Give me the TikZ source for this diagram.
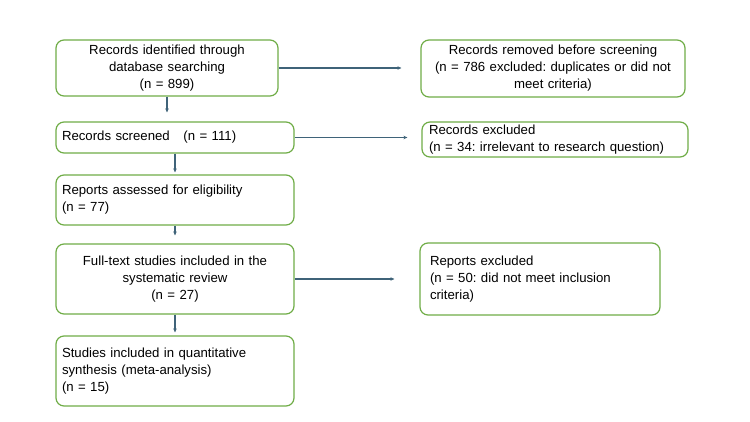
\documentclass[tikz,border=0pt]{standalone}
\usepackage{fontspec}
\setmainfont{Liberation Sans}
\usetikzlibrary{arrows.meta}
\definecolor{boxgreen}{HTML}{70AD47}
\definecolor{flowblue}{HTML}{3F6379}
\frenchspacing
\begin{document}
\begin{tikzpicture}[x=1pt,y=-1pt,
  flowbox/.style={draw=boxgreen, line width=1.2pt, rounded corners=8pt,
    font=\fontsize{13.2}{17}\selectfont, inner sep=0pt, anchor=center},
  flowarrow/.style={draw=flowblue, line width=1.2pt, -{Stealth[length=4pt,width=3.5pt]}}]
\useasboundingbox[fill=white] (0,0) rectangle (750,422);

% main column
\node[flowbox, minimum width=222pt, minimum height=56pt, text width=210pt, align=center]
  (ident) at (167,68) {Records identified through\\database searching\\(n = 899)};
\node[flowbox, minimum width=238pt, minimum height=31pt, text width=226pt, align=left]
  (screen) at (175,137.5) {Records screened\hspace{0.7em} (n = 111)};
\node[flowbox, minimum width=238pt, minimum height=50pt, text width=226pt, align=left]
  (assess) at (175,200) {Reports assessed for eligibility\\(n = 77)};
\node[flowbox, minimum width=238pt, minimum height=70pt, text width=226pt, align=center]
  (full) at (175,279) {Full-text studies included in the\\systematic review\\(n = 27)};
\node[flowbox, minimum width=238pt, minimum height=70pt, text width=226pt, align=left]
  (quant) at (175,371) {Studies included in quantitative\\synthesis (meta-analysis)\\(n = 15)};

% exclusion column
\node[flowbox, minimum width=264pt, minimum height=57pt, text width=256pt, align=center]
  (removed) at (553,68.5) {Records removed before screening\\(n = 786 excluded: duplicates or did not\\meet criteria)};
\node[flowbox, minimum width=266pt, minimum height=35pt, text width=252pt, align=left]
  (excl) at (555,139.5) {Records excluded\\(n = 34: irrelevant to research question)};
\node[flowbox, minimum width=240pt, minimum height=72pt, text width=220pt, align=left]
  (repexcl) at (540,279) {Reports excluded\\(n = 50: did not meet inclusion\\criteria)};

% vertical connectors
\draw[flowarrow, shorten >=9pt] (ident.south) -- (ident.south |- screen.north);
\draw[flowarrow, shorten >=2pt] (screen.south) -- (screen.south |- assess.north);
\draw[flowarrow, shorten >=8pt] (assess.south) -- (assess.south |- full.north);
\draw[flowarrow, shorten >=3pt] (full.south) -- (full.south |- quant.north);

% horizontal connectors
\draw[flowarrow, shorten >=19pt] (ident.east) -- (ident.east -| removed.west);
\draw[flowarrow, shorten >=14pt] (screen.east) -- (screen.east -| excl.west);
\draw[flowarrow, shorten >=25pt] (full.east) -- (full.east -| repexcl.west);
\end{tikzpicture}
\end{document}
